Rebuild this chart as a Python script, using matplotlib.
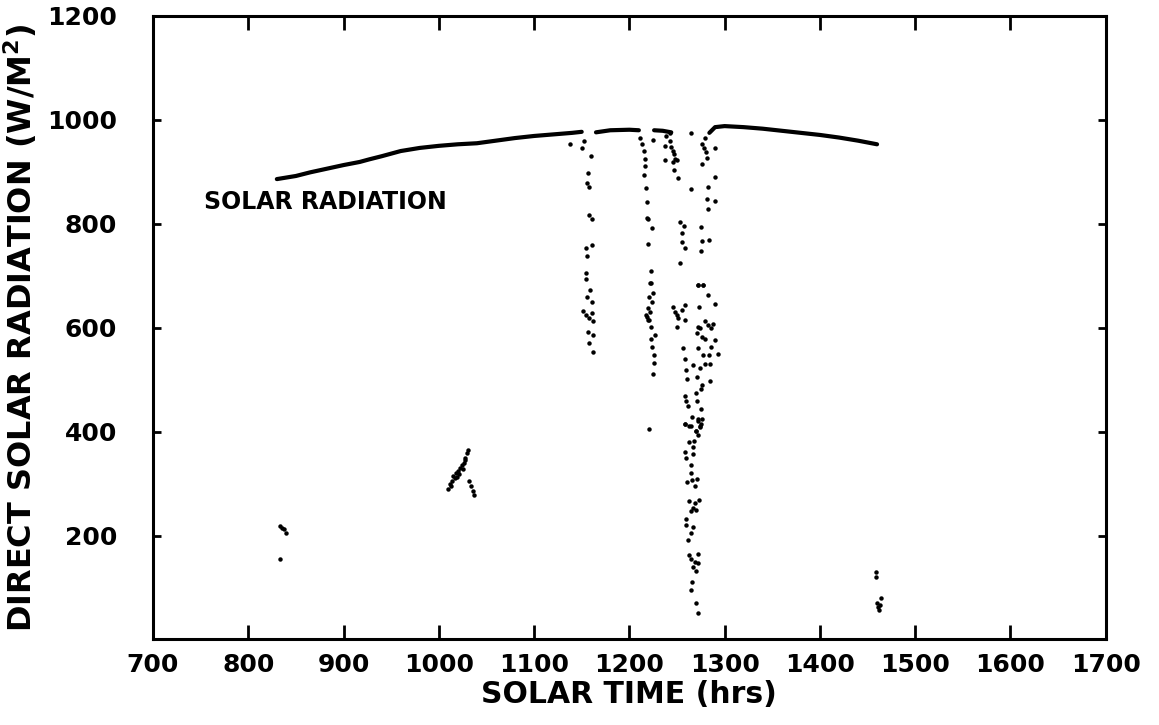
import numpy as np
import matplotlib.pyplot as plt

plt.rcParams['font.family'] = ['DejaVu Sans']
plt.rcParams['font.weight'] = 'bold'

# clear-sky envelope (nan = gap where clouds pass)
curve_x = [830, 850, 865, 880, 900, 917, 927, 940, 960, 980, 1000, 1020, 1040,
           1060, 1080, 1100, 1120, 1140, 1150, np.nan, 1165, 1180, 1200, 1210,
           np.nan, 1226, 1235, 1244, np.nan, 1284, 1290, 1300, 1320, 1340, 1360,
           1380, 1400, 1420, 1440, 1460]
curve_y = [886, 892, 899, 905, 913, 919, 924, 930, 940, 946, 950, 953, 955,
           960, 965, 969, 972, 975, 977, np.nan, 976, 980, 981, 980,
           np.nan, 980, 979, 976, np.nan, 975, 986, 988, 986, 983, 979,
           975, 971, 966, 960, 953]

# scattered readings during cloud passages, (time, W/m2)
morning_pts = [(833, 218), (835, 215), (838, 212), (840, 205), (833, 155)]

mid_morning_pts = [
    (1010, 290), (1012, 300), (1013, 295), (1014, 305), (1015, 315), (1017, 310),
    (1018, 320), (1019, 312), (1020, 325), (1021, 318), (1022, 330), (1024, 335),
    (1025, 328), (1026, 340), (1027, 345), (1028, 350), (1030, 358), (1031, 365),
    (1032, 305), (1034, 295), (1036, 285), (1037, 278)]

spike_1157 = [
    (1138, 953), (1150, 946), (1152, 959), (1160, 930), (1157, 897), (1156, 878),
    (1158, 870), (1158, 817), (1161, 809), (1161, 760), (1155, 753), (1156, 738),
    (1155, 705), (1154, 694), (1159, 673), (1156, 660), (1161, 649), (1151, 633),
    (1154, 625), (1161, 628), (1158, 618), (1162, 612), (1157, 591), (1162, 585),
    (1158, 570), (1162, 554)]

spike_1220 = [
    (1211, 966), (1213, 954), (1215, 941), (1216, 925), (1216, 912), (1215, 893),
    (1217, 869), (1219, 841), (1219, 812), (1220, 809), (1224, 791), (1220, 762),
    (1223, 710), (1222, 686), (1223, 686), (1225, 667), (1224, 650), (1220, 638),
    (1218, 625), (1220, 615), (1221, 615), (1223, 602), (1227, 586), (1223, 578),
    (1224, 563), (1226, 547), (1226, 533), (1225, 511), (1222, 630), (1221, 660),
    (1219, 620), (1221, 405)]

spike_1245 = [
    (1225, 962), (1237, 949), (1239, 968), (1243, 975), (1244, 948), (1246, 941),
    (1247, 935), (1248, 925), (1246, 919), (1250, 922), (1237, 922), (1247, 904),
    (1251, 888), (1265, 867), (1253, 804), (1257, 796), (1255, 783), (1255, 765),
    (1258, 754), (1253, 725), (1243, 960), (1258, 644), (1255, 634), (1250, 625),
    (1251, 618), (1258, 615), (1250, 602), (1246, 640), (1248, 630), (1265, 975)]

spike_1275 = [
    (1279, 966), (1276, 954), (1278, 946), (1280, 938), (1290, 946), (1281, 927),
    (1276, 915), (1290, 891), (1283, 871), (1282, 847), (1290, 843), (1283, 828),
    (1275, 793), (1284, 768), (1276, 767), (1275, 747), (1272, 683), (1277, 683),
    (1272, 683), (1277, 683), (1283, 663), (1290, 645), (1273, 639), (1279, 612),
    (1272, 602), (1274, 599), (1283, 605), (1288, 608), (1286, 599), (1271, 589),
    (1276, 583), (1279, 579), (1290, 576), (1272, 560), (1286, 563), (1256, 561),
    (1293, 550), (1277, 547), (1284, 548), (1258, 539), (1267, 529), (1274, 523),
    (1279, 531), (1285, 531), (1259, 518), (1271, 505), (1261, 501), (1285, 497),
    (1276, 489), (1275, 482), (1270, 475), (1258, 468), (1260, 459), (1271, 459),
    (1262, 449), (1275, 444), (1266, 428), (1272, 424), (1275, 415), (1258, 414),
    (1265, 411), (1274, 408), (1270, 402), (1272, 393), (1258, 415), (1263, 410),
    (1272, 421), (1276, 424), (1274, 411), (1270, 402), (1263, 380), (1268, 382),
    (1267, 370), (1258, 361), (1260, 350), (1267, 357), (1265, 335), (1265, 320),
    (1261, 303), (1266, 307), (1271, 309), (1269, 295), (1263, 266), (1269, 263),
    (1273, 268), (1267, 253), (1270, 250), (1265, 247), (1260, 231), (1259, 221),
    (1267, 216), (1265, 205), (1262, 191), (1263, 163), (1272, 165), (1265, 154),
    (1269, 150), (1267, 140), (1270, 131), (1272, 148), (1266, 111), (1265, 96),
    (1270, 70), (1272, 50)]

evening_pts = [(1459, 130), (1459, 121), (1464, 79), (1460, 70), (1463, 66),
               (1462, 56), (1461, 62)]

x_ticks = [700, 800, 900, 1000, 1100, 1200, 1300, 1400, 1500, 1600, 1700]
y_ticks = [200, 400, 600, 800, 1000, 1200]

pts = morning_pts + mid_morning_pts + spike_1157 + spike_1220 + spike_1245 \
    + spike_1275 + evening_pts
pts_x = [p[0] for p in pts]
pts_y = [p[1] for p in pts]

fig = plt.figure(figsize=(11.59, 7.25), dpi=100)
ax = fig.add_axes([0.132, 0.118, 0.822, 0.86])

ax.plot(curve_x, curve_y, color='black', lw=3, solid_capstyle='round')
ax.plot(pts_x, pts_y, 'o', color='black', markersize=3.2, markeredgewidth=0)

ax.set_xlim(700, 1700)
ax.set_ylim(0, 1200)
ax.set_xticks(x_ticks)
ax.set_yticks(y_ticks)
ax.tick_params(axis='both', direction='in', width=2, labelsize=18,
               top=True, right=True)
ax.tick_params(axis='x', length=10, pad=10)
ax.tick_params(axis='y', length=6, pad=26)
for lab in ax.get_xticklabels() + ax.get_yticklabels():
    lab.set_fontweight('heavy')
for s in ax.spines.values():
    s.set_linewidth(2.2)

ax.set_xlabel('SOLAR TIME (hrs)', fontsize=21.5, fontweight='heavy', labelpad=2)
ax.set_ylabel('DIRECT SOLAR RADIATION (W/M$\\mathbf{^2}$)', fontsize=23,
              fontweight='heavy', labelpad=6)
ax.text(754, 841, 'SOLAR RADIATION', fontsize=17, fontweight='heavy',
        va='center', ha='left')

fig.savefig('out.png', dpi=100)
